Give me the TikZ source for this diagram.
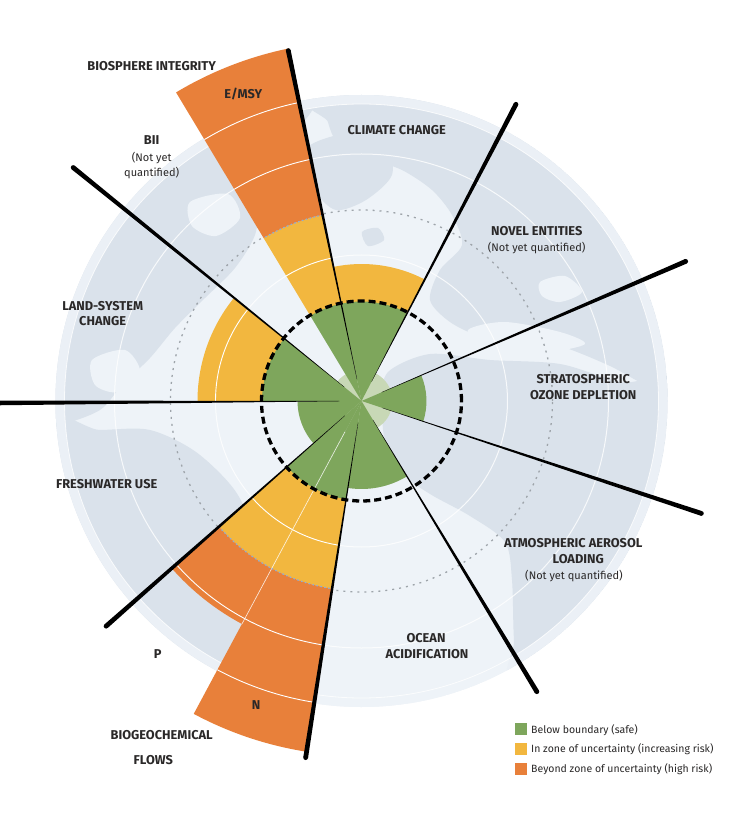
\documentclass[tikz,border=0pt]{standalone}
\usepackage{fontspec}
\setmainfont{Fira Sans}
\usetikzlibrary{calc}
\definecolor{cgreen}{HTML}{7EA65C}
\definecolor{cyellow}{HTML}{F2B73F}
\definecolor{corange}{HTML}{E8803A}
\definecolor{cpale}{HTML}{C8D8B6}
\definecolor{cocean}{HTML}{EEF3F8}
\definecolor{cland}{HTML}{DAE2EB}
\definecolor{ctext}{HTML}{2A2828}
\definecolor{cdot}{HTML}{9EA4AA}
\definecolor{cblue}{HTML}{8DB0D6}
\newcommand\pbwedge[4]{\fill[#1] (0,0) -- (#2:#4pt) arc[start angle=#2,end angle=#3,radius=#4pt] -- cycle;}
\newcommand\pbband[5]{\fill[#1] (#2:#4pt) arc[start angle=#2,end angle=#3,radius=#4pt] -- (#3:#5pt) arc[start angle=#3,end angle=#2,radius=#5pt] -- cycle;}
\newcommand\pbarc[4]{\draw[#1] (#2:#4pt) arc[start angle=#2,end angle=#3,radius=#4pt];}
\newcommand\pbsep[2]{%
  \fill[black] ($(#1:22pt)+(#1+90:0.12pt)$) -- ($(#1:#2pt)+(#1+90:2.4pt)$) -- ($(#1:#2pt)+(#1-90:2.4pt)$) -- ($(#1:22pt)+(#1-90:0.12pt)$) -- cycle;
  \fill[black] (#1:#2pt) circle[radius=2.4pt];}
\tikzset{
  lab/.style={font=\fontsize{12.8}{14}\selectfont\bfseries, text=ctext, inner sep=0pt, anchor=base},
  sublab/.style={font=\fontsize{11}{13}\selectfont, text=ctext, inner sep=0pt, anchor=base},
  leglab/.style={font=\fontsize{10.5}{12}\selectfont, text=ctext, inner sep=0pt, anchor=base west},
  legbox/.style={inner sep=0pt, minimum size=12pt, draw=none},
  whitearc/.style={white, line width=0.9pt},
  bluedot/.style={cblue, line width=1.2pt, dash pattern=on 1.5pt off 2.5pt},
}
\begin{document}
\begin{tikzpicture}[x=1pt,y=1pt]
\useasboundingbox (-361.5,-421) rectangle (376.5,401);
\fill[white] (-361.5,-421) rectangle (376.5,401);
% globe
\begin{scope}
  \clip (0,0) circle[radius=306pt];
  \fill[cocean] (0,0) circle[radius=306pt];
  \begin{scope}[shift={(-361.5,401)},yscale=-1]
    % North America
    \fill[cland] plot[smooth cycle] coordinates {(20,430) (20,100) (200,60) (310,95) (298,130) (280,160) (262,195) (255,235) (235,268) (205,298) (175,328) (150,358) (122,385) (100,410) (60,425)};
    \fill[cocean] plot[smooth cycle] coordinates {(190,202) (228,194) (240,218) (216,236) (192,226)};
    \fill[cocean] plot[smooth cycle] coordinates {(92,360) (125,350) (140,372) (118,392) (95,385)};
    % Greenland
    \fill[cland] plot[smooth cycle] coordinates {(305,150) (345,134) (385,144) (392,175) (366,200) (336,210) (315,190)};
    \fill[cland] plot[smooth cycle] coordinates {(362,232) (378,228) (384,240) (368,246)};
    % Eurasia
    \fill[cland] plot[smooth cycle] coordinates {(330,95) (700,80) (710,400) (660,392) (610,366) (560,346) (520,340) (480,336) (450,322) (430,300) (440,270) (462,245) (452,215) (432,190) (402,170) (372,160) (342,150) (328,122)};
    \fill[cocean] plot[smooth cycle] coordinates {(468,330) (505,322) (560,332) (585,344) (545,352) (485,348)};
    \fill[cocean] plot[smooth cycle] coordinates {(540,282) (565,276) (582,292) (560,302) (542,296)};
    % Africa
    \fill[cland] plot[smooth cycle] coordinates {(388,372) (430,354) (490,360) (560,364) (620,382) (710,400) (710,720) (520,692) (514,640) (512,580) (505,542) (470,516) (430,494) (400,472) (385,442) (382,402)};
    % South America
    \fill[cland] plot[smooth cycle] coordinates {(30,432) (100,430) (150,430) (196,452) (236,492) (256,542) (250,600) (240,660) (200,730) (30,730)};
  \end{scope}
  \fill[cocean,opacity=0.85,even odd rule] (0,0) circle[radius=306pt] (0,0) circle[radius=297pt];
  \draw[white,line width=0.8pt,opacity=0.8] (0,0) circle[radius=297pt];
\end{scope}
% faint reference circles
\draw[white,line width=1pt,opacity=0.8] (0,0) circle[radius=146pt] (0,0) circle[radius=247pt];
\draw[cdot,line width=1.3pt,dash pattern=on 2pt off 5pt] (0,0) circle[radius=191pt];
% pale centre
\fill[cpale] (0,0) circle[radius=31pt];
% wedges
\pbwedge{cgreen}{62.5}{101.8}{100}
\pbband{cyellow}{62.5}{101.8}{99.5}{137}
\pbwedge{cgreen}{101.8}{121}{100}
\pbband{cyellow}{101.8}{121}{99.5}{190}
\pbband{corange}{101.8}{121}{190}{360}
\pbwedge{cgreen}{141}{180.3}{100}
\pbband{cyellow}{141}{180.3}{99.5}{164}
\pbwedge{cgreen}{180.3}{221.4}{64}
\pbwedge{cgreen}{221.4}{241.8}{100}
\pbband{cyellow}{221.4}{241.8}{99.5}{190}
\pbband{corange}{221.4}{241.8}{190}{253}
\pbwedge{cgreen}{241.8}{261.1}{100}
\pbband{cyellow}{241.8}{261.1}{99.5}{190}
\pbband{corange}{241.8}{261.1}{190}{355}
\pbwedge{cgreen}{261.1}{301.1}{88}
\pbwedge{cgreen}{-18.3}{23.3}{65}
% white arcs on wedges
\pbarc{whitearc}{101.8}{121}{146}
\pbarc{whitearc}{101.8}{121}{247}
\pbarc{whitearc}{101.8}{121}{305}
\pbarc{whitearc}{141}{180.3}{146}
\pbarc{whitearc}{221.4}{241.8}{146}
\pbarc{whitearc}{221.4}{241.8}{247}
\pbarc{whitearc}{241.8}{261.1}{146}
\pbarc{whitearc}{241.8}{261.1}{247}
\pbarc{whitearc}{241.8}{261.1}{305}
\draw[white,line width=0.7pt,opacity=0.75] (241.8:35pt) -- (241.8:253pt);
% blue dotted arcs
\pbarc{bluedot}{101.8}{121}{190}
\pbarc{bluedot}{221.4}{241.8}{190}
\pbarc{bluedot}{241.8}{261.1}{190}
% boundary circle
\draw[black,line width=3.3pt,dash pattern=on 7pt off 4pt] (0,0) circle[radius=100pt];
% separators
\pbsep{101.8}{358}
\pbsep{62.5}{334.5}
\pbsep{23.3}{353}
\pbsep{-18.3}{358}
\pbsep{-58.9}{339.5}
\pbsep{261.1}{361}
\pbsep{221.4}{340.5}
\pbsep{180.3}{366}
\pbsep{141}{371}
% labels
\begin{scope}[shift={(-361.5,401)},yscale=-1]
  \node[lab] (bio) at (151.7,70.5) {BIOSPHERE INTEGRITY};
  \node[lab] (emsy) at (243.3,98.5) {E/MSY};
  \node[lab] (bii) at (151.7,144.5) {BII};
  \node[sublab] (bii1) at (151.7,161.3) {(Not yet};
  \node[sublab] (bii2) at (151.7,176.7) {quantified)};
  \node[lab] (clim) at (396.7,134.5) {CLIMATE CHANGE};
  \node[lab] (novel) at (536.7,235.2) {NOVEL ENTITIES};
  \node[sublab] (novel1) at (536.7,251.3) {(Not yet quantified)};
  \node[lab] (ozone1) at (583.3,383.5) {STRATOSPHERIC};
  \node[lab] (ozone2) at (583.3,399.5) {OZONE DEPLETION};
  \node[lab] (land1) at (102.7,310.2) {LAND-SYSTEM};
  \node[lab] (land2) at (102.7,325.2) {CHANGE};
  \node[lab] (fresh) at (106.7,488.8) {FRESHWATER USE};
  \node[lab] (aero1) at (573.3,547.8) {ATMOSPHERIC AEROSOL};
  \node[lab] (aero2) at (578.3,563.5) {LOADING};
  \node[sublab] (aero3) at (574,579.7) {(Not yet quantified)};
  \node[lab] (ocean1) at (426,642.8) {OCEAN};
  \node[lab] (ocean2) at (427,658.5) {ACIDIFICATION};
  \node[lab] (plab) at (157.7,658.5) {P};
  \node[lab] (nlab) at (256,709.5) {N};
  \node[lab] (bgc1) at (161.7,739.5) {BIOGEOCHEMICAL};
  \node[lab] (bgc2) at (153.3,764.5) {FLOWS};
  \node[legbox,fill=cgreen] (lg1) at (520.8,729.2) {};
  \node[legbox,fill=cyellow] (lg2) at (520.8,748.5) {};
  \node[legbox,fill=corange] (lg3) at (520.8,768.5) {};
  \node[leglab] (lt1) at (531,733) {Below boundary (safe)};
  \node[leglab] (lt2) at (531,752.3) {In zone of uncertainty (increasing risk)};
  \node[leglab] (lt3) at (531,772.3) {Beyond zone of uncertainty (high risk)};
\end{scope}
\end{tikzpicture}
\end{document}
